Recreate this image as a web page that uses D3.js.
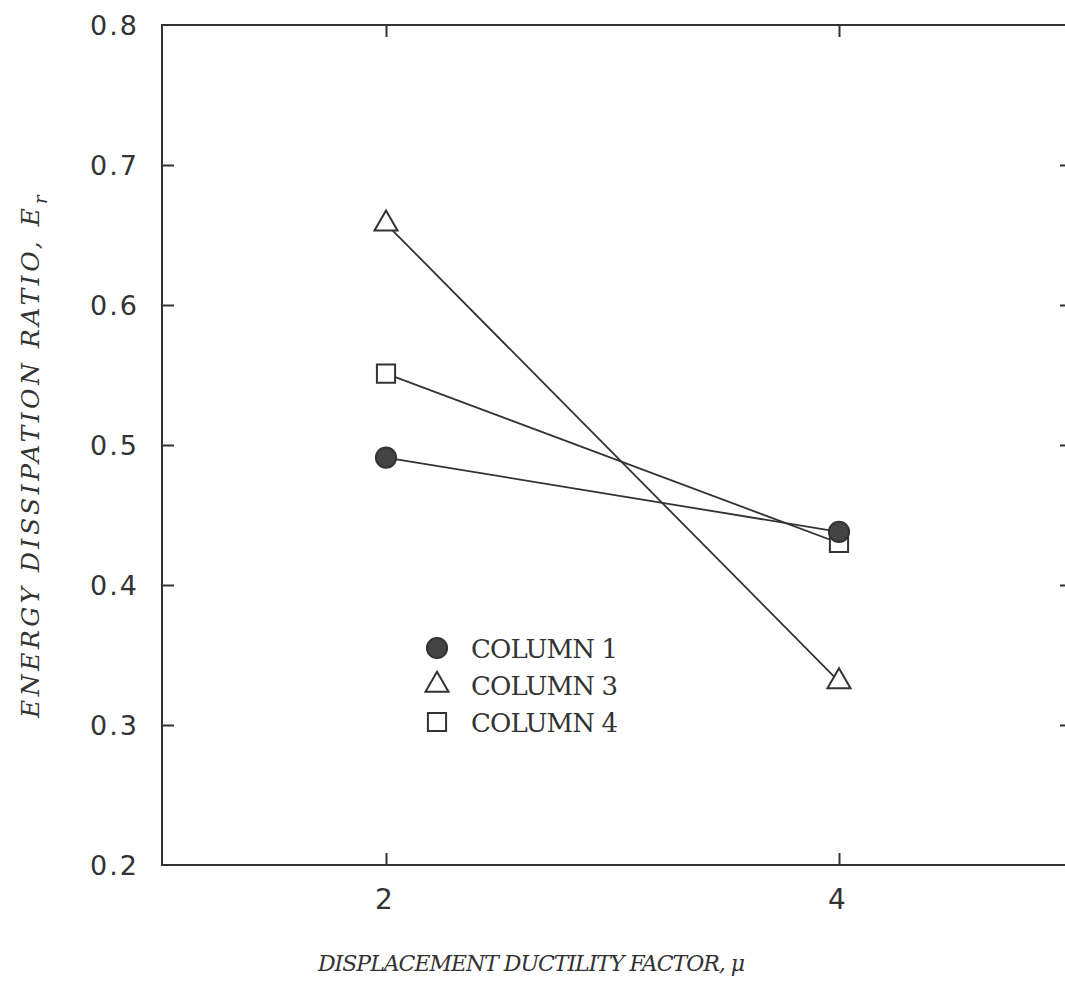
<!DOCTYPE html>
<html>
<head>
<meta charset="utf-8">
<script src="https://cdn.jsdelivr.net/npm/d3@7"></script>
<style>
	body { margin: 0; background: #fff; overflow: hidden; }
	svg { display: block; }
</style>
</head>
<body>
<div id="chart"></div>
<script>

// values
var ductility = [2, 4];
var column1 = [0.491, 0.438];
var column3 = [0.658, 0.331];
var column4 = [0.551, 0.430];
var yTicks = [0.2, 0.3, 0.4, 0.5, 0.6, 0.7, 0.8];
var xTicks = [2, 4];
var legendLabels = ['COLUMN 1', 'COLUMN 3', 'COLUMN 4'];

var ink = '#333';

// the scan cuts the right side of the box off
var frame = {left: 162, top: 25, right: 1072, bottom: 865};

var svg = d3.select('#chart').append('svg')
	.attr('width', 1065)
	.attr('height', 981);

var x = d3.scaleLinear().domain([2, 4]).range([386, 839]);
var y = d3.scaleLinear().domain([0.2, 0.8]).range([frame.bottom, frame.top]);

// open box: top, left and bottom only, right edge is off the page
svg.append('path')
	.attr('d', 'M' + frame.right + ',' + frame.top + 'H' + frame.left +
		'V' + frame.bottom + 'H' + frame.right)
	.attr('fill', 'none')
	.attr('stroke', ink)
	.attr('stroke-width', 2);

// inward ticks on all four sides
var tickLen = 12;

function addAxis(axis, tx, ty) {
	var g = svg.append('g')
		.attr('transform', 'translate(' + tx + ',' + ty + ')')
		.call(axis);
	g.select('.domain').remove();
	g.selectAll('.tick line').attr('stroke', ink).attr('stroke-width', 2);
	return g;
}

var yInner = yTicks.filter(function(d) { return d > 0.2 && d < 0.8; });

addAxis(d3.axisRight(y).tickValues(yInner).tickSize(tickLen).tickFormat(''), frame.left, 0);
addAxis(d3.axisLeft(y).tickValues(yInner).tickSize(tickLen).tickFormat(''), frame.right, 0);
addAxis(d3.axisTop(x).tickValues(xTicks).tickSize(tickLen).tickFormat(''), 0, frame.bottom);
addAxis(d3.axisBottom(x).tickValues(xTicks).tickSize(tickLen).tickFormat(''), 0, frame.top);

// tick labels
svg.selectAll('text.ylab')
	.data(yTicks)
	.enter().append('text')
	.attr('class', 'ylab')
	.attr('x', 139)
	.attr('y', function(d) { return y(d); })
	.attr('dy', '0.36em')
	.attr('text-anchor', 'end')
	.style('font-family', 'DejaVu Sans')
	.style('font-size', '27px')
	.style('letter-spacing', '2px')
	.attr('fill', ink)
	.text(function(d) { return d3.format('.1f')(d); });

svg.selectAll('text.xlab')
	.data(xTicks)
	.enter().append('text')
	.attr('class', 'xlab')
	.attr('x', function(d) { return x(d) - 2; })
	.attr('y', 909)
	.attr('text-anchor', 'middle')
	.style('font-family', 'DejaVu Sans')
	.style('font-size', '28px')
	.attr('fill', ink)
	.text(function(d) { return d; });

// axis titles
svg.append('text')
	.attr('x', 318)
	.attr('y', 971)
	.attr('textLength', 427)
	.attr('lengthAdjust', 'spacing')
	.style('font-family', 'DejaVu Serif')
	.style('font-style', 'italic')
	.style('font-size', '22px')
	.attr('fill', ink)
	.text('DISPLACEMENT DUCTILITY FACTOR, \u03bc');

var yTitle = svg.append('g')
	.attr('transform', 'translate(39,452) rotate(-90)');

yTitle.append('text')
	.attr('x', -266)
	.attr('y', 0)
	.attr('textLength', 510)
	.attr('lengthAdjust', 'spacing')
	.style('font-family', 'DejaVu Serif')
	.style('font-style', 'italic')
	.style('font-size', '25px')
	.attr('fill', ink)
	.text('ENERGY DISSIPATION RATIO, E');

yTitle.append('text')
	.attr('x', 248)
	.attr('y', 8)
	.style('font-family', 'DejaVu Serif')
	.style('font-style', 'italic')
	.style('font-size', '18px')
	.attr('fill', ink)
	.text('r');

// series, column 1 last so its dot covers the square at 4
var series = [
	{values: column4, symbol: d3.symbolSquare, size: 330, fill: '#fff'},
	{values: column3, symbol: d3.symbolTriangle, size: 230, fill: '#fff'},
	{values: column1, symbol: d3.symbolCircle, size: 320, fill: '#444'}
];

var line = d3.line()
	.x(function(d, i) { return x(ductility[i]); })
	.y(function(d) { return y(d); });

series.forEach(function(s) {
	svg.append('path')
		.attr('d', line(s.values))
		.attr('fill', 'none')
		.attr('stroke', ink)
		.attr('stroke-width', 1.8);
});

function drawMarker(s, cx, cy) {
	svg.append('path')
		.attr('d', d3.symbol().type(s.symbol).size(s.size)())
		.attr('transform', 'translate(' + cx + ',' + cy + ')')
		.attr('fill', s.fill)
		.attr('stroke', ink)
		.attr('stroke-width', 2);
}

series.forEach(function(s) {
	s.values.forEach(function(v, i) {
		drawMarker(s, x(ductility[i]), y(v));
	});
});

// legend, in the order of the figure
var legendOrder = [series[2], series[1], series[0]];
var legendTop = 648, legendStep = 37;

legendOrder.forEach(function(s, i) {
	var ly = legendTop + i * legendStep;
	drawMarker(s, 437, ly);
	svg.append('text')
		.attr('x', 471)
		.attr('y', ly + 10)
		.attr('textLength', 147)
		.attr('lengthAdjust', 'spacing')
		.style('font-family', 'DejaVu Serif')
		.style('font-size', '26px')
		.attr('fill', ink)
		.text(legendLabels[i]);
});

</script>
</body>
</html>
